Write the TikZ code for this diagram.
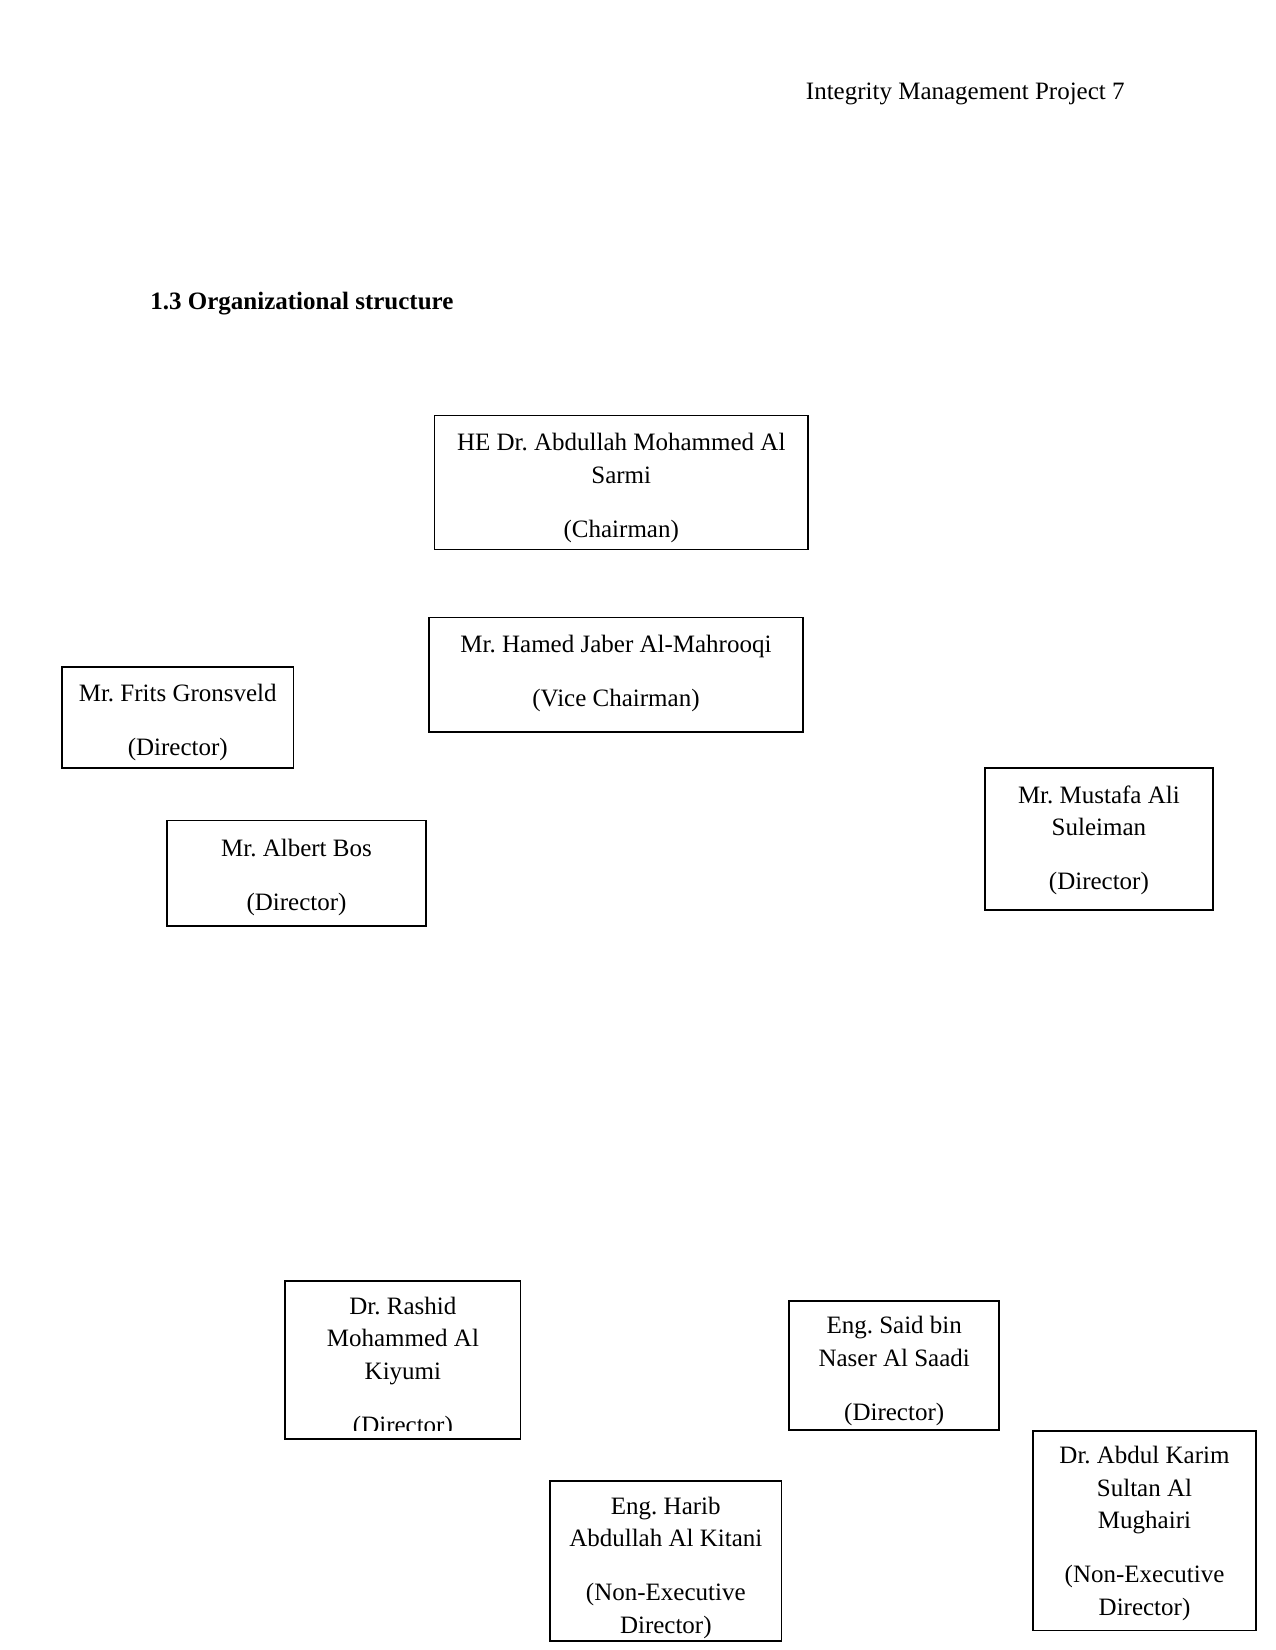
\documentclass[tikz,border=0pt]{standalone}
\usepackage{fontspec}
\setmainfont{Liberation Serif}
\usetikzlibrary{fit}
\frenchspacing
\begin{document}
\begin{tikzpicture}[x=0.48pt,y=-0.48pt,
  box/.style={draw=black,line width=0.9pt,inner sep=0pt},
  thinbox/.style={draw=black,line width=0.65pt,inner sep=0pt},
  txt/.style={anchor=base,align=center,inner sep=0pt,font=\frenchspacing\fontsize{12pt}{15.65pt}\selectfont}]
\useasboundingbox[fill=white] (0,0) rectangle (1275,1650);
\node[anchor=base east,inner sep=0pt,font=\fontsize{12pt}{14pt}\selectfont] (hdr) at (1125,99.5) {Integrity Management Project 7};
\node[anchor=base west,inner sep=0pt,font=\fontsize{12pt}{14pt}\selectfont\bfseries] (ttl) at (150,310) {1.3 Organizational structure};
% boxes
\node[box,fit={(434.5,415.5) (808,549.5)}] (ch) {};
\node[box,fit={(429,617.5) (802.7,732)}] (vc) {};
\node[box,fit={(62,667) (293.5,768)}] (fr) {};
\node[box,fit={(167,820.5) (426,925.7)}] (al) {};
\node[box,fit={(984.7,768) (1213,910)}] (mu) {};
\node[thinbox,fit={(285,1281) (520.7,1439)}] (ra) {};
\node[box,fit={(789,1301) (999.4,1429.6)}] (sa) {};
\node[thinbox,fit={(550,1481) (781.6,1641)}] (ha) {};
\node[thinbox,fit={(1033,1431) (1256,1630.6)}] (ab) {};
% texts (anchor base = baseline of last line)
\node[txt] (ch-t) at (621.25,537) {HE Dr. Abdullah Mohammed Al\\Sarmi\\[10.15pt](Chairman)};
\node[txt] (vc-t) at (616,706.5) {Mr. Hamed Jaber Al-Mahrooqi\\[10.15pt](Vice Chairman)};
\node[txt] (fr-t) at (177.75,755) {Mr. Frits Gronsveld\\[10.15pt](Director)};
\node[txt] (al-t) at (296.5,910.5) {Mr. Albert Bos\\[10.15pt](Director)};
\node[txt] (mu-t) at (1098.9,889.5) {Mr. Mustafa Ali\\Suleiman\\[10.15pt](Director)};
\begin{scope}
\clip (285,1281) rectangle (520.7,1430);
\node[txt] (ra-t) at (402.9,1433) {Dr. Rashid\\Mohammed Al\\Kiyumi\\[10.15pt](Director)};
\end{scope}
\node[txt] (sa-t) at (894.2,1420) {Eng. Said bin\\Naser Al Saadi\\[10.15pt](Director)};
\node[txt] (ha-t) at (665.8,1633) {Eng. Harib\\Abdullah Al Kitani\\[10.15pt](Non-Executive\\Director)};
\node[txt] (ab-t) at (1144.5,1615) {Dr. Abdul Karim\\Sultan Al\\Mughairi\\[10.15pt](Non-Executive\\Director)};
\end{tikzpicture}
\end{document}
